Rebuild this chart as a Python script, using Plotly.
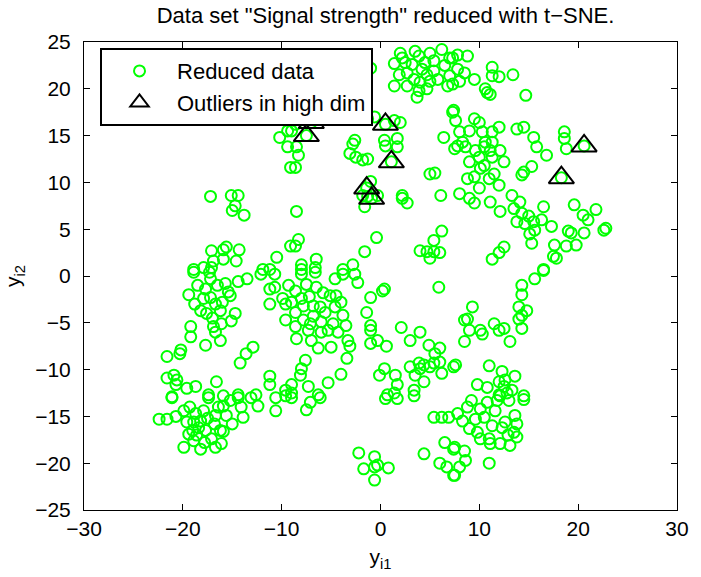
import plotly.graph_objects as go

# Reduced data (t-SNE coordinates)
reduced_points = [
    # top cluster
    (-1.0, 22.2), (1.4, 22.7), (2.2, 23.3), (1.9, 21.5), (2.7, 21.7), (3.2, 22.6), (3.9, 23.5),
    (4.2, 22.1), (3.4, 21.0), (4.0, 20.7), (5.0, 23.8), (5.4, 23.0), (6.2, 24.2), (4.7, 21.5),
    (5.0, 20.8), (5.4, 21.9), (1.4, 20.3), (2.7, 20.3), (3.9, 19.8), (3.7, 19.1), (4.7, 20.0),
    (7.0, 23.3), (7.0, 21.4), (7.4, 17.7), (6.4, 14.8), (2.5, 22.8), (4.5, 22.8), (6.5, 22.5),
    (5.8, 21.0), (6.8, 20.3), (2.0, 23.8), (3.5, 24.0), (7.8, 23.6), (9.5, 21.0),
    (7.3, 23.3), (8.8, 23.5), (7.8, 22.1), (8.5, 21.7), (8.0, 20.8), (7.3, 20.5), (11.3, 22.3),
    (11.3, 21.4), (12.0, 21.3), (13.4, 21.5), (10.6, 20.0), (11.1, 19.4), (10.8, 19.6), (14.7, 19.3),
    (7.3, 17.5), (7.6, 16.6), (9.5, 16.8), (10.0, 16.4), (12.0, 15.9), (11.3, 15.4), (10.3, 15.4),
    (9.0, 15.5), (8.0, 15.4), (13.8, 15.7), (14.5, 15.9), (15.5, 14.8), (18.6, 15.4), (18.6, 14.7),
    (8.3, 14.3), (10.6, 14.3), (11.3, 14.3),
    # upper left / middle
    (-5.1, 17.7), (-3.1, 17.1), (-1.3, 16.8), (-0.6, 17.0), (1.4, 16.6), (2.0, 16.4),
    (-8.6, 16.2), (-9.0, 15.5), (-7.5, 15.0), (-7.0, 16.4), (0.5, 16.2), (-2.6, 14.5), (0.4, 14.5), (1.7, 14.7),
    (-10.2, 14.8), (-9.4, 15.5), (-9.4, 13.8), (-9.1, 11.6),
    (-17.2, 8.5), (-15.1, 8.6), (-14.4, 8.6), (-14.7, 7.5), (-15.0, 7.0), (-13.8, 6.5),
    (-17.1, 2.7), (-15.9, 2.8), (-15.6, 3.1), (-14.3, 2.8), (-15.9, 1.8), (-14.6, 1.6), (-16.9, 1.6),
    (-10.5, 2.0), (-18.9, 0.7), (-17.9, 0.9), (-17.1, 0.9), (-11.9, 0.7), (-11.2, 0.7), (-9.1, 3.2),
    (-8.5, 13.8), (-8.3, 12.9), (-8.6, 11.6), (-2.8, 14.1), (-3.1, 13.1), (-2.5, 12.7), (-1.8, 12.4),
    (-1.3, 12.5), (0.5, 13.9), (1.7, 13.8), (1.1, 12.2), (-1.0, 10.1), (-0.3, 8.6), (-1.3, 8.5),
    (-1.6, 7.4), (-1.8, 8.6), (-1.4, 9.4), (-0.9, 8.3), (5.0, 10.9), (5.5, 11.0), (2.2, 8.6), (2.7, 7.8),
    (2.2, 8.3), (6.1, 8.6), (-8.5, 6.9), (-0.4, 4.1), (-1.6, 2.6), (6.2, 4.8), (5.4, 3.8), (4.0, 2.7),
    (4.7, 2.6), (5.4, 2.6), (6.0, 2.5), (5.0, 1.9), (-8.3, 3.9), (-8.6, 3.2), (-8.0, 1.2), (-6.5, 1.8),
    (-6.6, 0.9), (-8.0, 0.7), (-3.8, 0.7), (-2.8, 1.2), (7.5, 13.6),
    # right middle
    (7.8, 13.9), (8.6, 13.8), (9.6, 13.4), (10.5, 13.8), (11.1, 13.4), (12.1, 13.4), (10.0, 12.7),
    (11.3, 12.7), (12.5, 12.2), (15.8, 13.8), (16.8, 12.9), (18.8, 13.6), (20.6, 13.9), (10.1, 11.5),
    (8.8, 10.4), (9.5, 10.6), (11.0, 10.4), (11.5, 10.9), (12.0, 9.7), (14.3, 10.8), (15.3, 11.7),
    (14.5, 11.1), (18.3, 10.5), (8.0, 8.8), (9.0, 8.3), (9.5, 7.8), (10.0, 9.4), (11.1, 7.9),
    (12.1, 6.9), (13.3, 8.6), (14.1, 7.9), (13.5, 7.2), (14.3, 6.7), (15.0, 6.4), (13.8, 5.8),
    (14.6, 5.6), (15.5, 5.8), (16.5, 7.4), (16.3, 6.0), (17.3, 5.3), (15.6, 4.9), (15.1, 4.5),
    (15.3, 3.5), (19.6, 7.6), (20.5, 6.5), (21.0, 6.0), (21.8, 7.1), (19.0, 4.8), (19.3, 4.6),
    (20.6, 4.6), (22.6, 4.9), (22.8, 5.1), (17.6, 3.3), (18.8, 3.2), (19.8, 3.3), (17.5, 2.1),
    (17.8, 1.9), (12.5, 3.1), (12.0, 2.5), (11.3, 1.8), (16.5, 0.7), (10.5, 11.8), (9.0, 12.2),
    # left cluster
    (-18.9, 0.4), (-17.3, 0.4), (-17.2, -0.3), (-19.4, -2.0), (-17.7, -1.4), (-17.9, -2.4),
    (-17.2, -2.3), (-18.2, -3.7), (-17.6, -4.0), (-16.7, -3.0), (-16.2, -3.7), (-15.7, -0.8),
    (-15.4, -1.7), (-15.2, -2.1), (-14.4, -0.6), (-13.5, -0.3), (-12.1, 0.2), (-10.7, 0.2),
    (-11.2, -1.4), (-10.7, -1.2), (-11.2, -3.0), (-9.9, -2.4), (-9.6, -3.0), (-9.6, -4.7),
    (-14.7, -4.0), (-15.1, -4.8), (-16.1, -5.1), (-16.9, -5.4), (-16.7, -6.0), (-19.2, -5.4),
    (-19.2, -6.5), (-17.7, -7.4), (-16.2, -6.9), (-20.2, -7.9), (-20.3, -8.3), (-21.6, -8.6),
    (-12.9, -7.6), (-13.6, -8.3), (-14.2, -9.3), (-21.6, -10.9), (-20.9, -10.6), (-20.6, -11.1),
    (-20.7, -11.6), (-19.6, -12.0), (-18.7, -11.8), (-16.6, -11.3), (-21.1, -12.9), (-17.4, -12.7),
    (-15.9, -12.8), (-14.4, -12.7), (-12.6, -12.7), (-11.2, -10.7), (-11.2, -11.6), (-9.6, -12.2),
    (-16.5, -1.0), (-18.5, -1.0), (-16.0, -2.8), (-17.0, -4.5), (-18.8, -3.0),
    # central cluster
    (-8.0, 0.2), (-6.6, 0.4), (-4.6, -0.3), (-3.8, 0.2), (-2.6, 0.2), (-2.3, -0.7), (-9.3, -1.0),
    (-8.6, -1.6), (-7.5, -0.9), (-6.5, -1.2), (-5.1, -2.1), (-4.5, -2.1), (-9.0, -2.8), (-8.6, -3.9),
    (-7.8, -3.2), (-6.8, -3.2), (-6.1, -3.3), (-5.6, -3.9), (-4.6, -3.3), (-3.8, -4.2), (-7.8, -4.7),
    (-7.1, -5.1), (-6.0, -4.9), (-4.8, -5.1), (-3.5, -5.3), (-8.6, -5.4), (-7.3, -5.8), (-6.0, -6.0),
    (-4.3, -6.0), (-8.5, -6.7), (-7.0, -6.9), (-5.0, -7.6), (-6.3, -7.7), (-3.3, -6.9), (-3.1, -7.5),
    (-3.4, -8.8), (-1.0, -2.3), (0.2, -1.6), (0.4, -1.4), (-1.4, -3.9), (-1.0, -5.3), (-1.0, -5.8),
    (-1.0, -7.2), (-0.3, -6.9), (0.6, -7.5), (2.1, -5.5), (4.0, -6.0), (3.0, -6.9), (4.9, -7.4),
    (5.9, -1.2), (6.0, -7.7), (5.5, -8.3), (-7.6, -9.0), (-8.0, -9.9), (-8.1, -10.6), (-4.0, -10.5),
    (-5.3, -11.4), (-7.3, -11.8), (-9.0, -11.6), (-9.0, -12.5), (-6.3, -12.7),
    (-7.2, -2.2), (-5.8, -1.8), (-4.0, -2.8), (-6.8, -4.3), (-5.3, -5.8), (-8.0, -2.4),
    (0.4, -9.9), (-0.1, -10.6), (1.5, -10.6), (1.7, -11.6), (0.7, -12.7), (1.4, -12.5), (3.4, -12.2),
    (3.0, -9.7), (3.9, -9.3), (4.0, -9.9), (4.4, -9.5), (5.0, -9.7), (5.4, -9.3), (6.0, -9.2),
    (3.5, -10.6), (4.4, -11.3), (6.2, -10.4), (7.4, -9.7),
    # right lower
    (16.5, 0.6), (15.6, -0.3), (14.3, -1.0), (14.3, -2.0), (14.0, -3.3), (14.8, -3.7), (14.3, -4.2),
    (14.0, -4.6), (14.3, -5.6), (9.3, -3.3), (8.8, -4.6), (8.5, -4.7), (9.0, -5.8), (10.1, -5.8),
    (10.3, -6.2), (8.5, -7.0), (11.5, -5.1), (12.0, -5.8), (12.5, -5.6), (13.1, -7.0), (7.6, -9.5),
    (11.0, -9.6), (12.3, -10.2), (13.6, -10.7), (12.0, -11.3), (12.6, -11.1), (12.5, -11.8),
    (13.3, -12.2), (9.8, -11.6), (10.8, -11.9), (12.0, -12.7), (14.5, -12.8), (12.8, -12.5),
    # bottom left
    (-21.1, -13.0), (-17.4, -13.0), (-22.4, -15.3), (-21.6, -15.3), (-20.7, -15.0), (-19.9, -14.4),
    (-19.6, -15.6), (-18.7, -14.7), (-17.9, -14.4), (-18.9, -15.6), (-18.2, -15.5), (-18.4, -16.2),
    (-19.4, -16.9), (-18.6, -17.0), (-17.7, -16.5), (-19.9, -18.3), (-18.2, -18.5), (-18.9, -17.6),
    (-17.1, -17.4), (-16.7, -18.3), (-16.1, -17.9), (-16.2, -16.5), (-15.9, -16.6), (-16.7, -14.9),
    (-16.4, -14.0), (-15.9, -13.9), (-15.6, -14.9), (-15.2, -13.3), (-14.4, -13.0), (-14.1, -14.0),
    (-13.9, -15.1), (-13.1, -13.0), (-12.4, -13.9), (-10.6, -13.0), (-10.6, -14.4), (-9.6, -12.8),
    (-17.5, -15.2), (-19.0, -16.5), (-17.8, -17.8), (-16.8, -15.8), (-19.3, -14.0), (-15.0, -15.8),
    # bottom middle
    (-9.0, -13.0), (-7.5, -14.3), (-7.1, -13.5), (-6.1, -13.0), (0.5, -13.1), (1.7, -13.1), (3.4, -12.8),
    (-2.2, -18.9), (-0.6, -19.3), (-1.7, -20.6), (-0.6, -20.4), (-0.3, -20.2), (0.8, -20.5), (-0.6, -21.8),
    (5.4, -15.1), (6.2, -15.1), (6.9, -15.1), (4.4, -19.0), (6.5, -17.8), (6.0, -20.0), (6.7, -20.4),
    (7.4, -18.5), (7.4, -21.3),
    # bottom right
    (11.8, -13.3), (13.0, -13.3), (14.5, -13.2), (12.1, -12.8), (8.8, -14.0), (10.1, -14.2),
    (7.8, -14.7), (8.3, -15.5), (9.0, -16.3), (9.6, -15.3), (10.5, -15.1), (11.6, -14.4), (13.6, -14.9),
    (12.6, -15.6), (12.3, -16.2), (13.8, -15.8), (13.5, -16.7), (13.8, -17.2), (10.1, -17.4),
    (11.0, -17.4), (11.1, -17.9), (12.1, -17.9), (13.1, -18.1), (7.5, -18.3), (8.6, -19.7),
    (8.0, -20.4), (7.5, -21.3), (11.0, -20.0), (10.8, -13.5), (11.3, -16.0), (9.8, -16.7),
    (12.9, -17.0), (8.5, -18.7), (9.2, -13.3),
]
reduced_x = [p[0] for p in reduced_points]
reduced_y = [p[1] for p in reduced_points]

# Outliers in high dimension
outlier_x = [-7.0, -7.5, 0.5, 1.1, -1.4, -0.9, 18.3, 20.6]
outlier_y = [16.4, 15.0, 16.2, 12.2, 9.4, 8.3, 10.5, 13.9]

title_text = 'Data set "Signal strength" reduced with t\u2212SNE.'
font_family = "Liberation Sans, Arial, sans-serif"
FS = 21

fig = go.Figure()
fig.add_trace(go.Scatter(
    x=reduced_x, y=reduced_y, mode="markers", name="Reduced data",
    marker=dict(symbol="circle-open", size=11, color="#00ff00", line=dict(width=2, color="#00ff00")),
))
fig.add_trace(go.Scatter(
    x=outlier_x, y=outlier_y, mode="markers", name="Outliers in high dim",
    marker=dict(symbol="triangle-up-open", size=22, color="black", line=dict(width=2, color="black")),
))

axis_common = dict(
    showline=True, linecolor="black", linewidth=1, mirror="ticks",
    ticks="inside", ticklen=6, tickcolor="black", tickwidth=1,
    showgrid=False, zeroline=False,
    tickfont=dict(family=font_family, size=FS, color="black"),
)

fig.update_layout(
    width=701, height=577,
    margin=dict(l=84, r=14, t=42, b=63),
    paper_bgcolor="white", plot_bgcolor="white",
    font=dict(family=font_family, color="black"),
    title=dict(text=title_text, x=0.55, xanchor="center", y=1 - 15 / 577, yanchor="middle",
               font=dict(size=22, family=font_family, color="black")),
    xaxis=dict(range=[-30, 30], tick0=-30, dtick=10,
               title=dict(text="y<sub>i1</sub>", font=dict(size=FS), standoff=10), **axis_common),
    yaxis=dict(range=[-25, 25], tick0=-25, dtick=5, ticklabelstandoff=8,
               title=dict(text="y<sub>i2</sub>", font=dict(size=FS), standoff=8), **axis_common),
    legend=dict(x=0.027, y=0.987, xanchor="left", yanchor="top",
                bgcolor="white", bordercolor="black", borderwidth=2,
                font=dict(size=22, family=font_family, color="black"),
                itemwidth=65),
    showlegend=True,
)

fig.write_html("out.html")
